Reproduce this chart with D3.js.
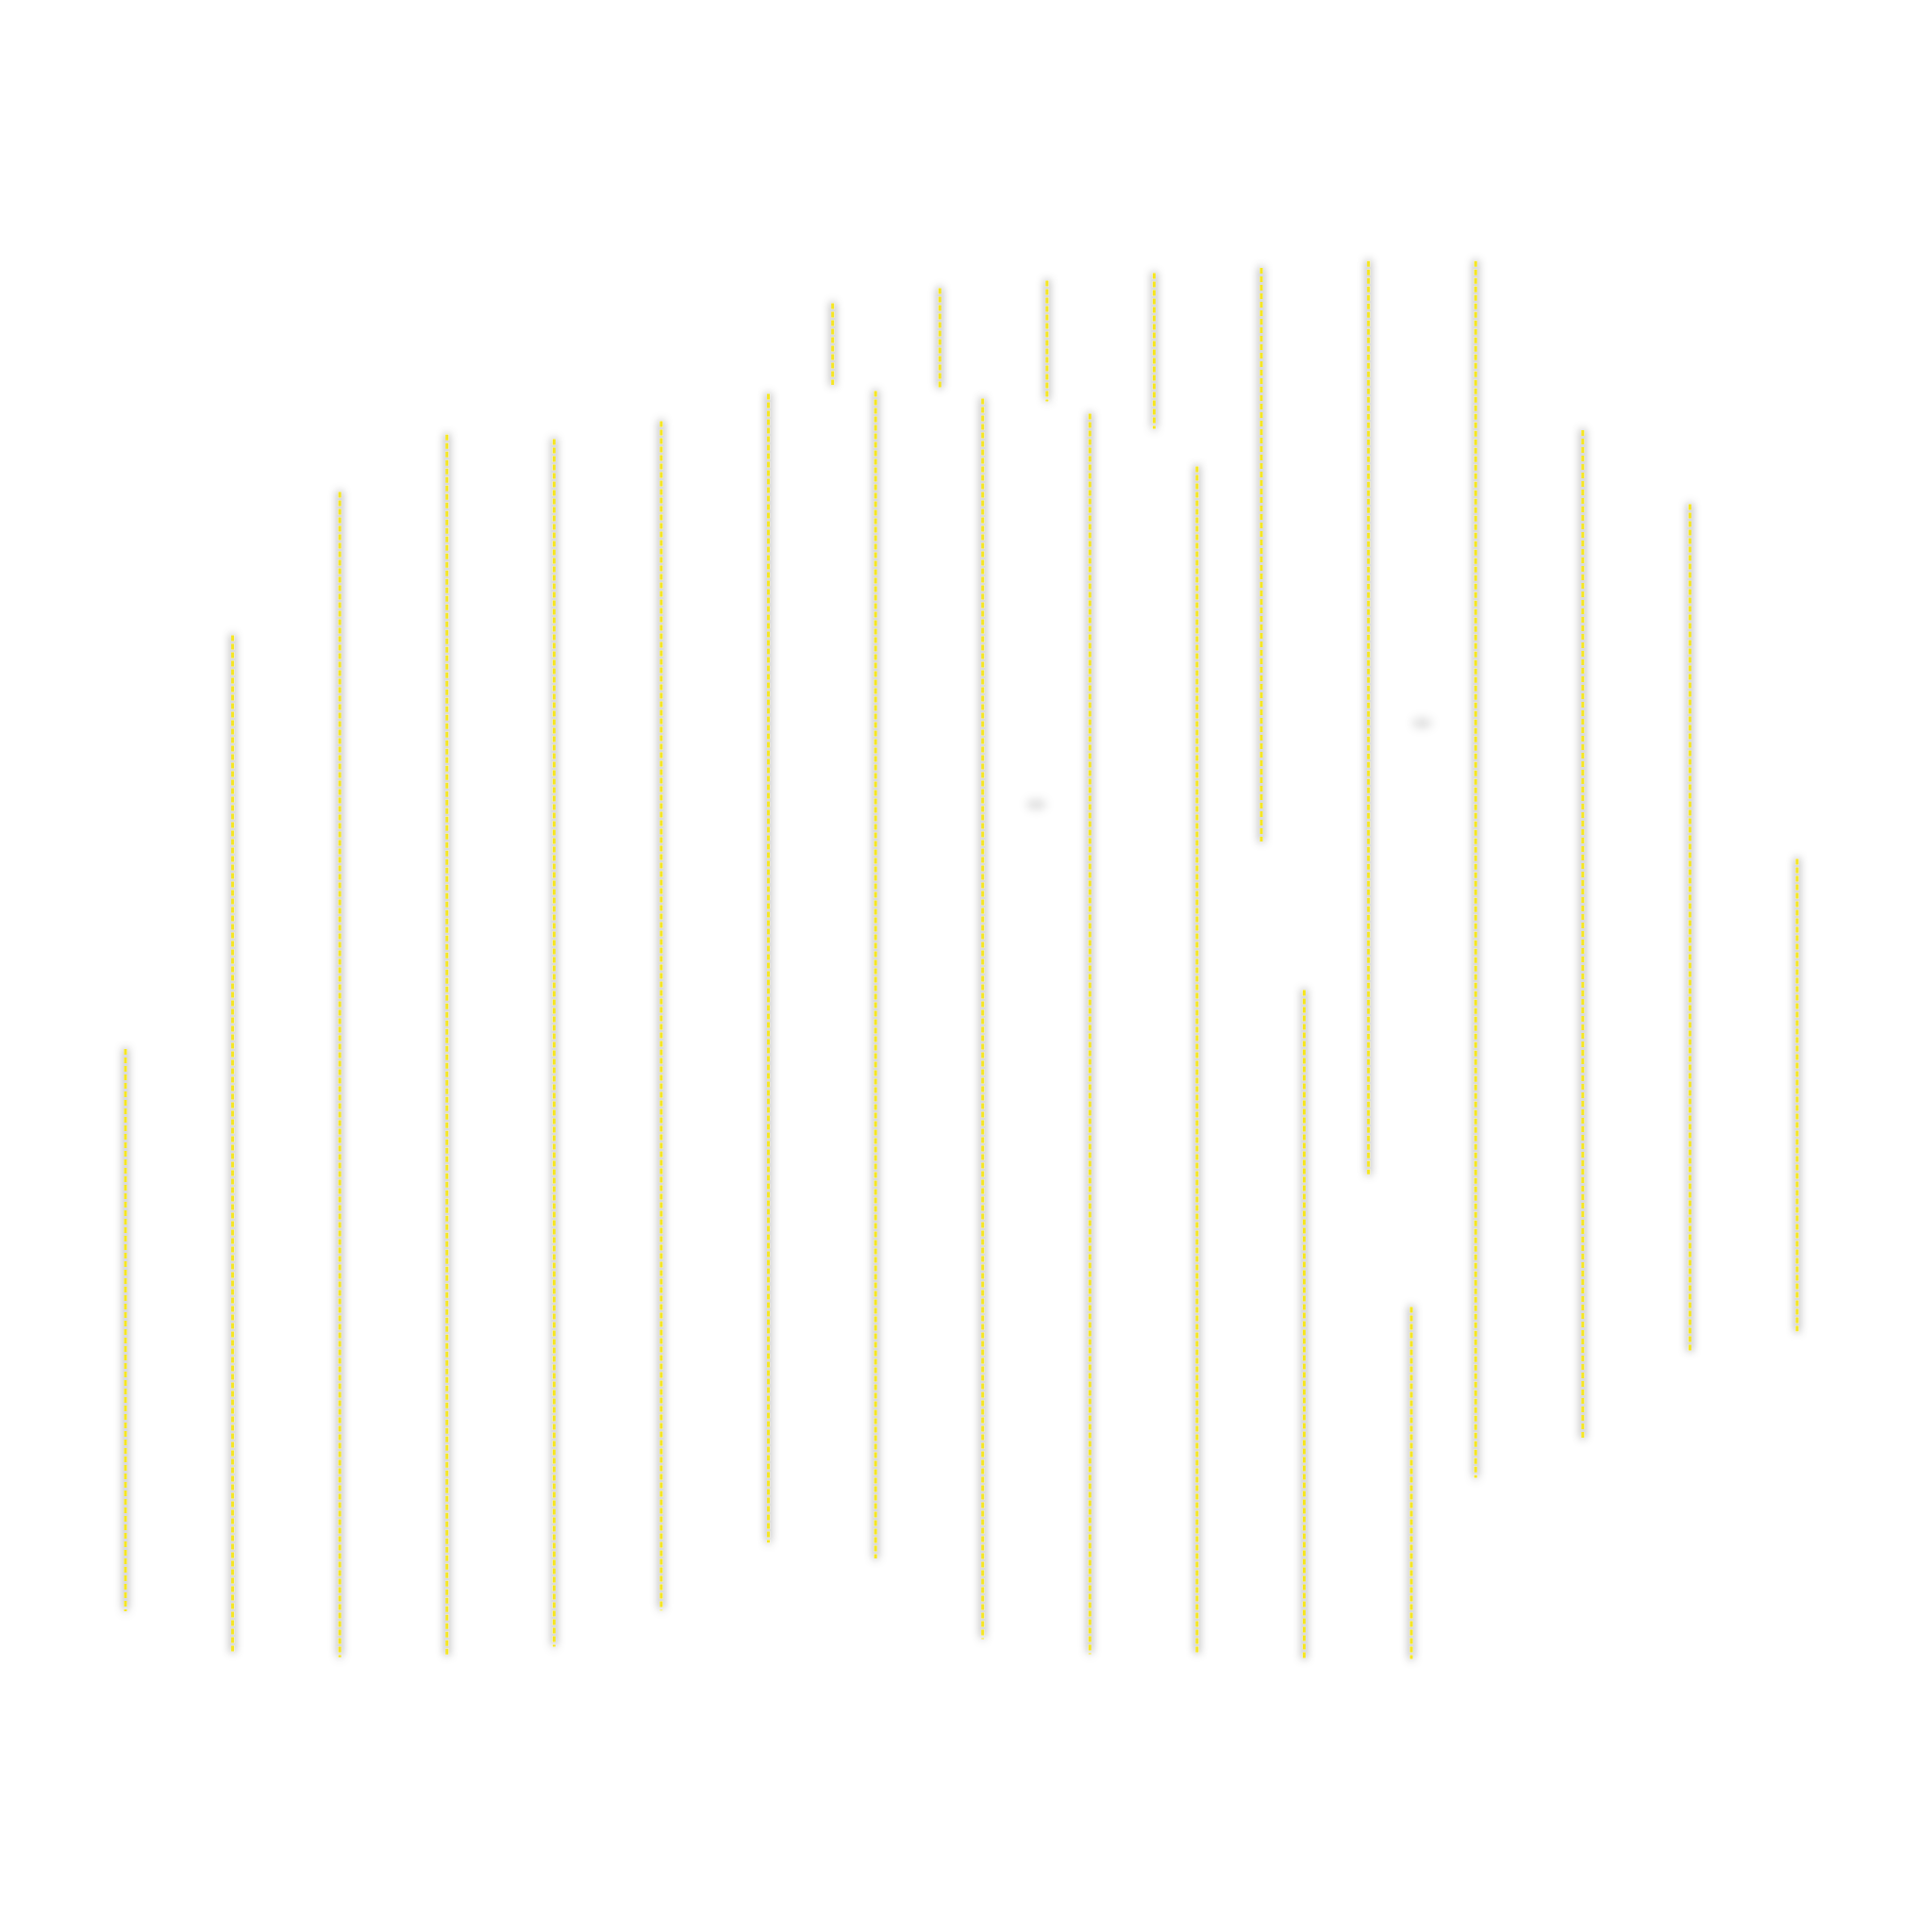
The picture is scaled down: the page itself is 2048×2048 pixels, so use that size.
<!DOCTYPE html>
<html lang="en">
<head>
  <meta charset="UTF-8">
  <title>Ranges</title>
  <style>
    html, body { margin: 0; padding: 0; background: #fff; }
  </style>
</head>
<body>
  <div id="chart"></div>
  <script src="https://d3js.org/d3.v7.min.js"></script>
  <script>

    // first series: position, low, high
    const posA  = [0, 1, 2, 3, 4, 5, 6, 7, 8, 9, 10, 11, 12];
    const highA = [43.0, 70.4, 79.9, 83.7, 83.4, 84.6, 86.4, 86.6, 86.1, 85.1, 81.6, 46.9, 25.9];
    const lowA  = [5.75, 3.1, 2.7, 2.7, 3.4, 5.8, 10.3, 9.25, 3.9, 2.9, 2.9, 2.6, 2.6];

    // second series, shifted along x
    const posB  = [6.6, 7.6, 8.6, 9.6, 10.6, 11.6, 12.6, 13.6, 14.6, 15.6];
    const highB = [92.4, 93.4, 93.9, 94.4, 94.75, 95.2, 95.2, 84.0, 79.1, 55.6];
    const lowB  = [87.0, 86.8, 85.9, 84.1, 56.75, 34.7, 14.6, 17.2, 22.9, 24.3];

    // two faint marks that only show their shadow
    const ghostX = [8.5, 12.1];
    const ghostY = [59.2, 64.6];

    const width = 2048,
          height = 2048;

    const svg = d3.select("#chart")
      .append("svg")
      .attr("width", width)
      .attr("height", height)
      .attr("viewBox", [0, 0, width, height]);

    svg.append("rect")
      .attr("width", width)
      .attr("height", height)
      .attr("fill", "#fff");

    const x = d3.scaleLinear([0, 15.6], [133, 1905]);
    const y = d3.scaleLinear([0, 100], [1800, 200]);

    // soft grey shadow round each line
    const defs = svg.append("defs");
    const f = defs.append("filter")
      .attr("id", "shadow")
      .attr("filterUnits", "userSpaceOnUse")
      .attr("x", 0).attr("y", 0)
      .attr("width", width).attr("height", height);
    f.append("feGaussianBlur")
      .attr("in", "SourceAlpha")
      .attr("stdDeviation", 5)
      .attr("result", "blur");
    f.append("feFlood")
      .attr("flood-color", "#000")
      .attr("flood-opacity", 0.85);
    f.append("feComposite")
      .attr("in2", "blur")
      .attr("operator", "in")
      .attr("result", "shade");
    const merge = f.append("feMerge");
    merge.append("feMergeNode").attr("in", "shade");
    merge.append("feMergeNode").attr("in", "SourceGraphic");

    const blurOnly = defs.append("filter")
      .attr("id", "blurOnly")
      .attr("x", "-200%").attr("y", "-300%")
      .attr("width", "500%").attr("height", "700%");
    blurOnly.append("feGaussianBlur").attr("stdDeviation", 5);

    const seriesA = posA.map((p, i) => ({p, lo: lowA[i], hi: highA[i]}));
    const seriesB = posB.map((p, i) => ({p, lo: lowB[i], hi: highB[i]}));

    svg.append("g")
      .selectAll("ellipse")
      .data(ghostX.map((gx, i) => ({gx, gy: ghostY[i]})))
      .join("ellipse")
      .attr("cx", d => x(d.gx))
      .attr("cy", d => y(d.gy))
      .attr("rx", 11)
      .attr("ry", 6)
      .attr("fill", "#000")
      .attr("fill-opacity", 0.12)
      .attr("filter", "url(#blurOnly)");

    svg.append("g")
      .attr("filter", "url(#shadow)")
      .selectAll("line")
      .data(seriesA.concat(seriesB))
      .join("line")
      .attr("x1", d => x(d.p))
      .attr("x2", d => x(d.p))
      .attr("y1", d => y(d.hi))
      .attr("y2", d => y(d.lo))
      .attr("stroke", "#f5e622")
      .attr("stroke-width", 3)
      .attr("stroke-dasharray", "6,3");

  </script>
</body>
</html>
